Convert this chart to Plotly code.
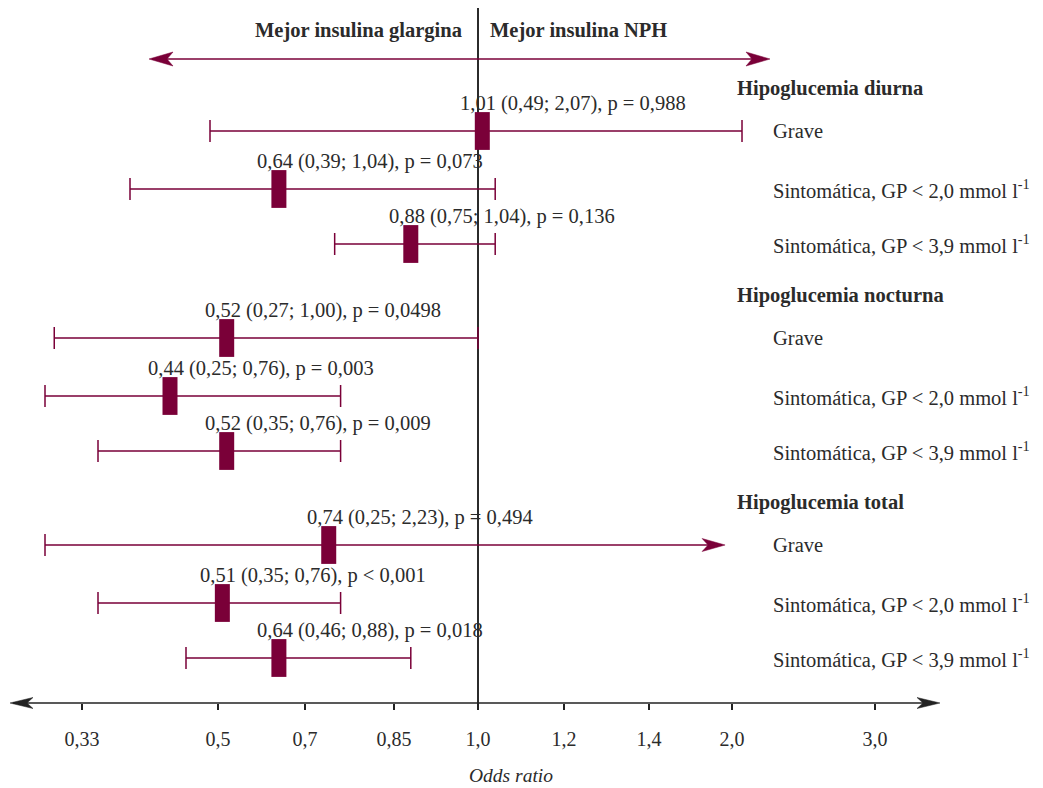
import numpy as np
import plotly.graph_objects as go

# ---------------- data ----------------
groups = ["Hipoglucemia diurna", "Hipoglucemia nocturna", "Hipoglucemia total"]
outcomes = ["Grave",
            "Sintomática, GP < 2,0 mmol l<sup>-1</sup>",
            "Sintomática, GP < 3,9 mmol l<sup>-1</sup>"]

odds_ratio = [1.01, 0.64, 0.88, 0.52, 0.44, 0.52, 0.74, 0.51, 0.64]
ci_lower = [0.49, 0.39, 0.75, 0.27, 0.25, 0.35, 0.25, 0.35, 0.46]
ci_upper = [2.07, 1.04, 1.04, 1.00, 0.76, 0.76, 2.23, 0.76, 0.88]
p_values = ["p = 0,988", "p = 0,073", "p = 0,136",
            "p = 0,0498", "p = 0,003", "p = 0,009",
            "p = 0,494", "p < 0,001", "p = 0,018"]
upper_open = [False, False, False, False, False, False, True, False, False]

tick_values = [0.33, 0.5, 0.7, 0.85, 1.0, 1.2, 1.4, 2.0, 3.0]
tick_labels = ["0,33", "0,5", "0,7", "0,85", "1,0", "1,2", "1,4", "2,0", "3,0"]

# ---------------- styling / layout constants ----------------
W, H = 1043, 788
BURG = "#7a0038"
DARK = "#2b2b2b"
FONT = "Liberation Serif"

# The original odds-ratio axis is a hand-built, non-uniform scale:
# each tick sits at its own place along the axis (px from the left).
SCALE_OR = [0.25] + tick_values
SCALE_POS = [45, 82, 218, 305, 394, 478, 564, 649, 732, 875]
ARROW_CLIP_OR = 1.95   # open-ended intervals are drawn as an arrow up to here


def to_x(v):
    return np.interp(np.asarray(v, dtype=float), SCALE_OR, SCALE_POS)


AXIS_Y = 703
HEADER_Y0, SECTION_STEP = 88, 207
ROW_OFFSETS = [43, 101, 156]

row_group = [i // 3 for i in range(len(odds_ratio))]
row_out = [i % 3 for i in range(len(odds_ratio))]
row_y = [HEADER_Y0 + g * SECTION_STEP + ROW_OFFSETS[k] for g, k in zip(row_group, row_out)]

xo = to_x(odds_ratio)
xl = to_x(ci_lower)
xu = to_x(ci_upper)

err_plus = [0.0 if op else u - o for u, o, op in zip(xu, xo, upper_open)]
err_minus = list(xo - xl)


def fmt(v):
    return f"{v:.2f}".replace(".", ",")


fig = go.Figure()

# whiskers + point estimates
fig.add_trace(go.Scatter(
    x=xo, y=row_y, mode="markers",
    marker=dict(symbol="line-ns", size=27, line=dict(width=15, color=BURG), color=BURG),
    error_x=dict(type="data", symmetric=False, array=err_plus, arrayminus=err_minus,
                 width=11, thickness=1.5, color=BURG),
    hoverinfo="skip", showlegend=False,
))

shapes = []
annotations = []


def arrow_head(x_tip, y, direction, color, length=23, half=6.5, notch=6):
    d = direction
    return dict(type="path", xref="x", yref="y",
                path=(f"M{x_tip},{y} L{x_tip - d*length},{y - half} "
                      f"L{x_tip - d*(length - notch)},{y} L{x_tip - d*length},{y + half} Z"),
                fillcolor=color, line=dict(color=color, width=0.5), layer="above")


# open-ended upper CI drawn as an arrow
for i, op in enumerate(upper_open):
    if op:
        x_tip = float(to_x(min(ci_upper[i], ARROW_CLIP_OR)))
        fig.add_trace(go.Scatter(x=[xo[i], x_tip - 8], y=[row_y[i], row_y[i]], mode="lines",
                                 line=dict(color=BURG, width=1.5), hoverinfo="skip",
                                 showlegend=False))
        shapes.append(arrow_head(x_tip, row_y[i], 1, BURG))

# vertical line at OR = 1
x1 = float(to_x(1.0))
shapes.append(dict(type="line", xref="x", yref="y", x0=x1, x1=x1, y0=8, y1=710,
                   line=dict(color=DARK, width=2), layer="below"))

# top double arrow
TOP_Y = 59
shapes.append(dict(type="line", xref="x", yref="y", x0=152, x1=765, y0=TOP_Y, y1=TOP_Y,
                   line=dict(color=BURG, width=1.5)))
shapes.append(arrow_head(149, TOP_Y, -1, BURG, length=24, half=7))
shapes.append(arrow_head(770, TOP_Y, 1, BURG, length=24, half=7))

# bottom axis double arrow
shapes.append(dict(type="line", xref="x", yref="y", x0=13, x1=936, y0=AXIS_Y, y1=AXIS_Y,
                   line=dict(color="#222222", width=1.5)))
shapes.append(arrow_head(10, AXIS_Y, -1, "#222222", length=23, half=5.5))
shapes.append(arrow_head(940, AXIS_Y, 1, "#222222", length=23, half=5.5))

# estimate labels above the bars
for i in range(len(odds_ratio)):
    txt = f"{fmt(odds_ratio[i])} ({fmt(ci_lower[i])}; {fmt(ci_upper[i])}), {p_values[i]}"
    annotations.append(dict(x=xo[i], y=row_y[i] - 28, xref="x", yref="y", text=txt,
                            showarrow=False, xanchor="left", yanchor="middle", xshift=-24,
                            font=dict(family=FONT, size=20.5, color=DARK)))

# right-hand labels
for g, name in enumerate(groups):
    annotations.append(dict(x=735, y=HEADER_Y0 + g * SECTION_STEP, xref="x", yref="y",
                            text=f"<b>{name}</b>", showarrow=False, xanchor="left",
                            yanchor="middle", font=dict(family=FONT, size=20.5, color=DARK)))
for i in range(len(odds_ratio)):
    annotations.append(dict(x=771, y=row_y[i], xref="x", yref="y", text=outcomes[row_out[i]],
                            showarrow=False, xanchor="left", yanchor="middle",
                            font=dict(family=FONT, size=20.5, color=DARK)))

# direction labels
annotations.append(dict(x=x1 - 14, y=30, xref="x", yref="y", text="<b>Mejor insulina glargina</b>",
                        showarrow=False, xanchor="right", yanchor="middle",
                        font=dict(family=FONT, size=20.5, color=DARK)))
annotations.append(dict(x=x1 + 10, y=30, xref="x", yref="y", text="<b>Mejor insulina NPH</b>",
                        showarrow=False, xanchor="left", yanchor="middle",
                        font=dict(family=FONT, size=20.5, color=DARK)))

# axis title
annotations.append(dict(x=511, y=775, xref="x", yref="y", text="<i>Odds ratio</i>",
                        showarrow=False, xanchor="center", yanchor="middle",
                        font=dict(family=FONT, size=19.5, color=DARK)))

fig.update_layout(
    width=W, height=H,
    margin=dict(l=0, r=0, t=0, b=0, pad=0),
    paper_bgcolor="white", plot_bgcolor="white",
    shapes=shapes, annotations=annotations,
    xaxis=dict(range=[0, W], showgrid=False, zeroline=False, showline=False,
               tickvals=list(to_x(tick_values)), ticktext=tick_labels,
               ticks="outside", ticklen=6, tickwidth=1.5, tickcolor="#222222",
               tickfont=dict(family=FONT, size=20, color=DARK),
               anchor="free", position=(H - AXIS_Y) / H, ticklabelstandoff=12,
               fixedrange=True),
    yaxis=dict(range=[H, 0], visible=False, fixedrange=True),
)

fig.write_html("out.html", config={"displayModeBar": False},
               post_script="document.body.style.margin='0px';document.body.style.overflow='hidden';")
